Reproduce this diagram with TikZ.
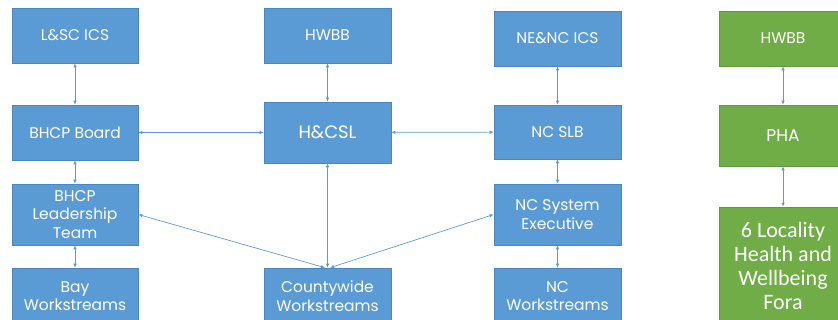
\documentclass[tikz,border=0pt]{standalone}
\usepackage{fontspec}
\setmainfont{Poppins}
\newfontfamily\forafont{Carlito}
\usetikzlibrary{arrows.meta}

\definecolor{boxblue}{HTML}{5B9BD5}
\definecolor{edgeblue}{HTML}{4A87C2}
\definecolor{boxgreen}{HTML}{70AD47}
\definecolor{edgegreen}{HTML}{5F9A3B}

\tikzset{
    bluebox/.style={fill=boxblue, draw=edgeblue, line width=0.6pt, text=white,
        minimum width=126pt, minimum height=55pt, align=center, inner sep=2pt,
        font=\fontsize{15.5}{18.5}\selectfont},
    greenbox/.style={fill=boxgreen, draw=edgegreen, line width=0.6pt, text=white,
        minimum width=128pt, minimum height=55pt, align=center, inner sep=2pt,
        font=\fontsize{15.5}{18.5}\selectfont},
    twoway/.style={boxblue, line width=0.7pt,
        {Latex[length=4pt,width=3.5pt]}-{Latex[length=4pt,width=3.5pt]}}
}

\begin{document}
\begin{tikzpicture}[x=1pt, y=-1pt]
        \useasboundingbox (0,0) rectangle (838,320);

        % bay column
        \node[bluebox] (lscics) at (75,35.5) {L\&SC ICS};
        \node[bluebox] (bhcpboard) at (75,132.5) {BHCP Board};
        \node[bluebox, minimum height=61pt] (bhcplt) at (75,214.5) {BHCP\\Leadership\\Team};
        \node[bluebox, minimum height=56pt] (bayws) at (75,296) {Bay\\Workstreams};

        % countywide column
        \node[bluebox, minimum width=127pt] (hwbb) at (327.5,35.5) {HWBB};
        \node[bluebox, minimum width=127pt, minimum height=61pt,
              font=\fontsize{18}{20}\selectfont] (hcsl) at (327.5,132.5) {H\&CSL};
        \node[bluebox, minimum width=127pt, minimum height=56pt] (countyws) at (327.5,296) {Countywide\\Workstreams};

        % north cumbria column
        \node[bluebox, minimum width=127pt] (neics) at (557.5,38.5) {NE\&NC ICS};
        \node[bluebox, minimum width=127pt, minimum height=54pt] (ncslb) at (557.5,132) {NC SLB};
        \node[bluebox, minimum width=127pt, minimum height=61pt] (ncse) at (557.5,214.5) {NC System\\Executive};
        \node[bluebox, minimum width=127pt, minimum height=56pt] (ncws) at (557.5,296) {NC\\Workstreams};

        % health and wellbeing column
        \node[greenbox] (ghwbb) at (783,38.5) {HWBB};
        \node[greenbox, minimum height=61pt, font=\fontsize{17}{20}\selectfont] (pha) at (783,135.5) {PHA};
        \node[greenbox, minimum height=117pt, font=\forafont\fontsize{22}{24}\selectfont] (fora) at (783,265.5) {6 Locality\\Health and\\Wellbeing\\Fora};

        % vertical links
        \draw[twoway] (lscics) -- (bhcpboard);
        \draw[twoway] (bhcpboard) -- (bhcplt);
        \draw[twoway] (bhcplt) -- (bayws);
        \draw[twoway] (hwbb) -- (hcsl);
        \draw[twoway] (hcsl) -- (countyws);
        \draw[twoway] (neics) -- (ncslb);
        \draw[twoway] (ncslb) -- (ncse);
        \draw[twoway] (ncse) -- (ncws);
        \draw[twoway] (ghwbb) -- (pha);
        \draw[twoway] (pha) -- (fora);

        % horizontal and diagonal links
        \draw[twoway] (bhcpboard) -- (hcsl);
        \draw[twoway] (hcsl) -- (ncslb);
        \draw[twoway] (countyws.95) -- (bhcplt.east);
        \draw[twoway] (countyws.85) -- (ncse.west);
    \end{tikzpicture}
\end{document}
